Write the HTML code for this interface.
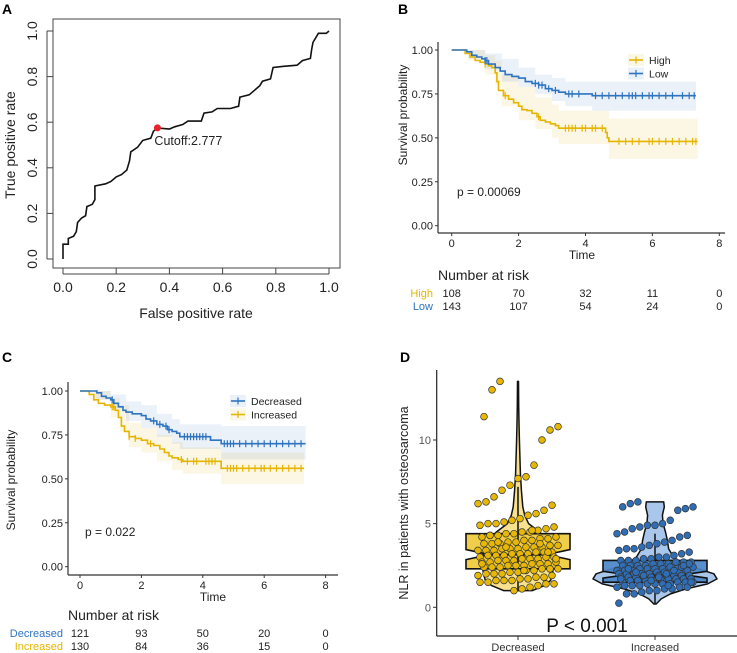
<!DOCTYPE html>
<html><head><meta charset="utf-8"><style>
body{margin:0;background:#fff}
svg{display:block;font-family:"Liberation Sans",sans-serif}
</style></head><body>
<svg id="fig" width="737" height="653" viewBox="0 0 737 653"></svg>
<script>
// ---------- Panel A data ----------
const rocFpr=[0,0,0.02,0.02,0.04,0.05,0.055,0.07,0.085,0.09,0.11,0.12,0.12,0.16,0.18,0.2,0.22,0.24,0.25,0.255,0.28,0.3,0.33,0.34,0.355,0.4,0.42,0.45,0.47,0.52,0.53,0.56,0.58,0.63,0.66,0.665,0.7,0.72,0.74,0.75,0.78,0.79,0.83,0.88,0.9,0.93,0.935,0.94,0.96,0.99,1];
const rocTpr=[0,0.065,0.065,0.09,0.1,0.12,0.16,0.18,0.19,0.23,0.24,0.26,0.32,0.33,0.34,0.36,0.37,0.39,0.43,0.47,0.49,0.52,0.53,0.56,0.575,0.57,0.58,0.59,0.605,0.605,0.64,0.645,0.66,0.66,0.67,0.71,0.72,0.74,0.76,0.78,0.79,0.84,0.845,0.85,0.87,0.88,0.92,0.95,0.99,0.99,1];
const cutoffPoint=[0.355,0.575];
const rocTicks=[0,0.2,0.4,0.6,0.8,1.0];
// ---------- Panel B data ----------
const bHighT=[0.4,0.55,0.7,0.85,1.0,1.1,1.2,1.3,1.35,1.4,1.55,1.7,1.85,2.0,2.1,2.25,2.4,2.55,2.65,2.8,2.95,3.1,3.2,4.6,4.65,4.7];
const bHighS=[0.98,0.96,0.94,0.93,0.92,0.91,0.9,0.87,0.82,0.77,0.74,0.72,0.70,0.68,0.66,0.655,0.64,0.62,0.60,0.59,0.58,0.57,0.555,0.53,0.5,0.48];
const bHighCens=[1.0,1.6,2.6,3.4,3.5,3.6,3.7,3.9,4.0,4.2,4.3,4.5,5.0,5.2,5.4,5.6,5.9,6.0,6.2,6.4,6.6,6.8,7.0,7.2,7.3];
const bHighBandT=[0,0.5,1.0,1.3,1.5,2.0,2.5,3.0,3.2,4.7];
const bHighLo=[1,0.94,0.86,0.8,0.68,0.6,0.55,0.5,0.465,0.38];
const bHighHi=[1,1,0.97,0.94,0.86,0.79,0.73,0.69,0.655,0.61];
const bLowT=[0.45,0.6,0.75,0.9,1.0,1.1,1.3,1.45,1.6,1.8,2.0,2.2,2.4,2.6,2.8,3.0,3.2,3.4,4.2];
const bLowS=[0.99,0.97,0.96,0.95,0.94,0.92,0.90,0.88,0.86,0.85,0.84,0.82,0.81,0.80,0.78,0.77,0.76,0.75,0.74];
const bLowCens=[1.0,1.05,2.5,2.6,2.7,2.9,3.1,3.5,3.6,3.8,4.3,4.5,4.7,4.9,5.1,5.3,5.4,5.5,5.7,5.9,6.0,6.2,6.4,6.6,6.9,7.1,7.25];
const bLowBandT=[0,0.5,1,1.5,2,2.5,3,3.4,4.2];
const bLowLo=[1,0.95,0.89,0.82,0.79,0.75,0.71,0.68,0.655];
const bLowHi=[1,1,0.98,0.95,0.9,0.86,0.84,0.82,0.82];
const bRiskHigh=[108,70,32,11,0];
const bRiskLow=[143,107,54,24,0];
// ---------- Panel C data ----------
const cDecT=[0.55,0.7,0.85,1.0,1.1,1.25,1.4,1.5,1.7,2.0,2.15,2.3,2.5,2.7,2.85,3.0,3.15,3.25,4.25,4.6];
const cDecS=[0.99,0.97,0.96,0.95,0.93,0.91,0.89,0.88,0.87,0.86,0.84,0.83,0.81,0.80,0.78,0.77,0.76,0.74,0.72,0.70];
const cDecCens=[1.05,2.4,2.6,2.8,2.9,3.4,3.5,3.6,3.7,3.8,3.9,4.0,4.1,4.7,4.8,4.9,5.0,5.2,5.4,5.6,5.8,6.0,6.2,6.4,6.6,6.8,7.0,7.2];
const cDecBandT=[0,0.5,1,1.5,2,2.5,3,3.25,4.6];
const cDecLo=[1,0.95,0.9,0.83,0.79,0.74,0.7,0.67,0.61];
const cDecHi=[1,1,0.98,0.94,0.92,0.87,0.84,0.81,0.8];
const cIncT=[0.3,0.45,0.6,0.8,1.0,1.15,1.25,1.35,1.45,1.6,1.8,2.0,2.2,2.4,2.6,2.75,2.9,3.0,3.2,3.35,4.6];
const cIncS=[0.98,0.95,0.93,0.92,0.91,0.89,0.85,0.8,0.77,0.74,0.73,0.72,0.7,0.69,0.67,0.65,0.63,0.62,0.61,0.6,0.56];
const cIncCens=[1.05,1.1,1.6,1.8,2.3,3.3,3.5,3.7,3.8,4.1,4.2,4.3,4.4,4.8,4.9,5.0,5.1,5.3,5.5,5.7,5.9,6.0,6.2,6.4,6.6,6.8,7.0,7.2];
const cIncBandT=[0,0.3,1,1.3,1.6,2,2.5,3,3.35,4.6];
const cIncLo=[1,0.95,0.85,0.77,0.68,0.65,0.6,0.55,0.53,0.47];
const cIncHi=[1,1,0.96,0.92,0.82,0.79,0.75,0.71,0.68,0.65];
const cRiskDec=[121,93,50,20,0];
const cRiskInc=[130,84,36,15,0];
const kmTimeTicks=[0,2,4,6,8];
const kmProbTicks=[0,0.25,0.5,0.75,1.0];
// ---------- Panel D data ----------
const dCategories=["Decreased","Increased"];
const dDecVals=[13.5,13.0,11.4,10.8,10.6,10.0,8.5,7.8,7.7,7.3,7.0,6.6,6.3,6.2,6.1,5.8,5.6,5.5,5.3,5.2,5.1,5.0,5.0,4.9,4.8,4.7,4.6,4.5,4.5,4.4,4.4,4.3,4.3,4.2,4.2,4.1,4.1,4.0,4.0,3.9,3.9,3.8,3.8,3.8,3.7,3.7,3.6,3.6,3.6,3.5,3.5,3.5,3.4,3.4,3.4,3.3,3.3,3.3,3.2,3.2,3.2,3.1,3.1,3.1,3.0,3.0,3.0,2.9,2.9,2.9,2.8,2.8,2.8,2.7,2.7,2.7,2.6,2.6,2.6,2.5,2.5,2.5,2.4,2.4,2.4,2.3,2.3,2.3,2.2,2.2,2.1,2.1,2.0,2.0,2.0,1.9,1.9,1.8,1.8,1.7,1.7,1.6,1.6,1.6,1.5,1.5,1.4,1.4,1.3,1.2,1.1,1.0,3.6,3.9,4.3,2.6,2.9,3.3,3.8,4.6,2.2];
const dIncVals=[6.3,6.2,6.0,6.0,5.9,5.8,5.2,5.0,4.9,4.9,4.8,4.7,4.5,4.4,4.3,4.2,4.0,3.9,3.8,3.7,3.6,3.5,3.5,3.4,3.3,3.2,3.1,3.0,3.0,2.9,2.9,2.8,2.8,2.8,2.7,2.7,2.7,2.6,2.6,2.6,2.5,2.5,2.5,2.5,2.4,2.4,2.4,2.4,2.3,2.3,2.3,2.3,2.2,2.2,2.2,2.2,2.1,2.1,2.1,2.1,2.0,2.0,2.0,2.0,2.0,1.9,1.9,1.9,1.9,1.9,1.8,1.8,1.8,1.8,1.8,1.7,1.7,1.7,1.7,1.7,1.6,1.6,1.6,1.6,1.5,1.5,1.5,1.5,1.4,1.4,1.4,1.4,1.3,1.3,1.3,1.2,1.2,1.2,1.1,1.1,1.0,1.0,0.9,0.8,0.8,0.25,2.6,2.4,2.2,2.0,1.8,1.6,1.9,2.1,2.3,1.7,1.5,2.5,2.7,1.3];
const dDecDensV=[1.0,1.3,1.6,2.0,2.5,3.0,3.5,4.0,4.5,5.0,5.5,6.0,7.0,8.0,9.0,10.0,11,12,13.5];
const dDecDens=[0.3,0.55,0.68,0.72,0.74,0.74,0.7,0.62,0.45,0.22,0.14,0.1,0.07,0.05,0.04,0.03,0.02,0.015,0.01];
const dIncDensV=[0.2,0.5,0.8,1.1,1.4,1.7,2.0,2.3,2.6,3.0,3.5,4.0,4.5,5.0,5.5,6.0,6.3];
const dIncDens=[0.02,0.1,0.25,0.5,0.85,1.0,0.95,0.7,0.45,0.3,0.22,0.2,0.17,0.13,0.12,0.15,0.14];
const dQ1=[2.3,1.5], dMed=[3.15,1.95], dQ3=[4.4,2.8], dWLo=[1.0,0.2], dWHi=[7.2,4.4], dNotch=[0.3,0.2];
const dYTicks=[0,5,10];

const NS="http://www.w3.org/2000/svg";
const svg=document.getElementById('fig');
function el(tag,attrs,parent,txt){const e=document.createElementNS(NS,tag);for(const k in attrs)e.setAttribute(k,attrs[k]);if(txt!==undefined)e.textContent=txt;(parent||svg).appendChild(e);return e;}
const BLUE="#2E74C0", YEL="#E5B500";

function panelLabel(t,x,y){const e=el('text',{x:x,y:y,'font-size':14,'font-weight':'bold'},svg,t);

}

// ================= Panel A =================
(function(){
 const g=el('g',{});
 
 
 const X=v=>63+v*266, Y=v=>259-v*228;
 const box=el('rect',{x:53,y:19,width:287,height:249,fill:'none',stroke:'#444','stroke-width':1},g);
 
 
 rocTicks.forEach((t,i)=>{
  el('line',{x1:X(t),x2:X(t),y1:268,y2:274,stroke:'#444'},g);
  const lx=el('text',{x:X(t),y:292,'font-size':14,'text-anchor':'middle',fill:'#222'},g,t.toFixed(1));
  
  
  el('line',{x1:53,x2:47,y1:Y(t),y2:Y(t),stroke:'#444'},g);
  const ly=el('text',{x:0,y:0,'font-size':14,'text-anchor':'middle',fill:'#222',transform:`translate(37,${Y(t)}) rotate(-90)`},g,t.toFixed(1));
  
  
 });
 el('line',{x1:X(0),x2:X(1),y1:274,y2:274,stroke:'#444'},g);
 el('line',{x1:47,x2:47,y1:Y(0),y2:Y(1),stroke:'#444'},g);
 const xt=el('text',{x:196,y:318,'font-size':14,'text-anchor':'middle',fill:'#222'},g,'False positive rate');
 
 
 const yt=el('text',{x:0,y:0,'font-size':14,'text-anchor':'middle',fill:'#222',transform:'translate(15,145) rotate(-90)'},g,'True positive rate');
 
 
 let d='';rocFpr.forEach((f,i)=>{d+=(i?'L':'M')+X(f).toFixed(1)+','+Y(rocTpr[i]).toFixed(1);});
 const ln=el('path',{d:d,fill:'none',stroke:'#111','stroke-width':1.6},g);
 
 
 const c=el('circle',{cx:X(cutoffPoint[0]),cy:Y(cutoffPoint[1]),r:3.5,fill:'#e8232a'},g);
 
 
 const ct=el('text',{x:X(cutoffPoint[0])-3,y:Y(cutoffPoint[1])+17,'font-size':12.5,fill:'#222'},g,'Cutoff:2.777');
 
 
})();
panelLabel('A',2,14);

// ================= KM panels =================
function stepPath(T,S,X,Y,end){let d=`M${X(0)},${Y(1)}`;let cur=1;T.forEach((t,i)=>{d+=`H${X(t).toFixed(1)}V${Y(S[i]).toFixed(1)}`;cur=S[i];});d+=`H${X(end).toFixed(1)}`;return d;}
function bandPath(T,L,H,X,Y,end){let up='',lo='';const n=T.length;
 for(let i=0;i<n;i++){const t1=(i<n-1)?T[i+1]:end;up+=(i?'L':'M')+X(T[i]).toFixed(1)+','+Y(H[i]).toFixed(1)+'L'+X(t1).toFixed(1)+','+Y(H[i]).toFixed(1);}
 for(let i=n-1;i>=0;i--){const t1=(i<n-1)?T[i+1]:end;lo+='L'+X(t1).toFixed(1)+','+Y(L[i]).toFixed(1)+'L'+X(T[i]).toFixed(1)+','+Y(L[i]).toFixed(1);}
 return up+lo+'Z';}
function survAt(T,S,t){let s=1;T.forEach((x,i)=>{if(x<=t)s=S[i];});return s;}

function kmPanel(o){
 const g=el('g',{});
 
 
 const X=v=>o.x0+v*o.sx, Y=v=>o.y0-v*o.sy;
 o.series.forEach(s=>{
  const b=el('path',{d:bandPath(s.bT,s.lo,s.hi,X,Y,s.end),fill:s.color,'fill-opacity':0.1},g);
  
  
 });
 o.series.forEach(s=>{
  const p=el('path',{d:stepPath(s.T,s.S,X,Y,s.end),fill:'none',stroke:s.color,'stroke-width':1.6},g);
  
  
  s.cens.forEach(t=>{const v=survAt(s.T,s.S,t);
   const m=el('line',{x1:X(t),x2:X(t),y1:Y(v)-3.5,y2:Y(v)+3.5,stroke:s.color,'stroke-width':1.2},g);
   
   });
 });
 // axes
 el('line',{x1:o.axL,x2:o.axL,y1:o.axT,y2:o.axB,stroke:'#333','stroke-width':1.2},g);
 el('line',{x1:o.axL,x2:o.axR,y1:o.axB,y2:o.axB,stroke:'#333','stroke-width':1.2},g);
 kmProbTicks.forEach(t=>{el('line',{x1:o.axL,x2:o.axL-3,y1:Y(t),y2:Y(t),stroke:'#333'},g);
  const l=el('text',{x:o.axL-5,y:Y(t)+4,'font-size':11,'text-anchor':'end',fill:'#222'},g,t.toFixed(2));
  
  });
 kmTimeTicks.forEach(t=>{el('line',{x1:X(t),x2:X(t),y1:o.axB,y2:o.axB+3,stroke:'#333'},g);
  const l=el('text',{x:X(t),y:o.axB+14,'font-size':11,'text-anchor':'middle',fill:'#222'},g,t);
  
  });
 const xt=el('text',{x:o.timeX,y:o.axB+26,'font-size':12,'text-anchor':'middle',fill:'#222'},g,'Time');
 
 
 const yt=el('text',{x:0,y:0,'font-size':12,'text-anchor':'middle',fill:'#222',transform:`translate(${o.ytX},${o.ytY}) rotate(-90)`},g,'Survival probability');
 
 
 const pv=el('text',{x:o.pX,y:o.pY,'font-size':12,fill:'#222'},g,o.pText);
 
 
 o.legend.forEach((s,i)=>{const ly=o.legY+i*13.5;
  el('rect',{x:o.legX-2,y:ly-6,width:16,height:12,fill:s.color,'fill-opacity':0.1},g);
  el('line',{x1:o.legX-1,x2:o.legX+13,y1:ly,y2:ly,stroke:s.color,'stroke-width':1.6},g);
  el('line',{x1:o.legX+6,x2:o.legX+6,y1:ly-3.5,y2:ly+3.5,stroke:s.color,'stroke-width':1.2},g);
  const t=el('text',{x:o.legX+19,y:ly+4,'font-size':10.5,fill:'#222'},g,s.label);
  
  });
 const nr=el('text',{x:o.axL,y:o.nrY,'font-size':14,fill:'#222'},g,'Number at risk');
 
 
 o.risk.forEach((r,i)=>{const ry=o.rowY+i*13;
  const lab=el('text',{x:o.axL-5,y:ry,'font-size':11,'text-anchor':'end',fill:r.color},g,r.label);
  
  
  r.vals.forEach((v,j)=>{const t=el('text',{x:X(kmTimeTicks[j]),y:ry,'font-size':11,'text-anchor':'middle',fill:'#222'},g,v);
   
   });
 });
}
const hiS={key:'high',color:YEL,T:bHighT,S:bHighS,cens:bHighCens,bT:bHighBandT,lo:bHighLo,hi:bHighHi,end:7.35};
const loS={key:'low',color:BLUE,T:bLowT,S:bLowS,cens:bLowCens,bT:bLowBandT,lo:bLowLo,hi:bLowHi,end:7.3};
kmPanel({name:'km-panel-b',x0:451.7,sx:33.45,y0:225.7,sy:175.7,axL:438,axR:725,axT:42,axB:233,timeX:582,ytX:407,ytY:115,pX:457,pY:196,pText:'p = 0.00069',
 series:[hiS,loS],legend:[{key:'high',label:'High',color:YEL},{key:'low',label:'Low',color:BLUE}],legX:630,legY:60,
 nrY:280,rowY:297,risk:[{key:'high',label:'High',color:YEL,vals:bRiskHigh},{key:'low',label:'Low',color:BLUE,vals:bRiskLow}]});
panelLabel('B',398,14);
const dS={key:'decreased',color:BLUE,T:cDecT,S:cDecS,cens:cDecCens,bT:cDecBandT,lo:cDecLo,hi:cDecHi,end:7.35};
const iS={key:'increased',color:YEL,T:cIncT,S:cIncS,cens:cIncCens,bT:cIncBandT,lo:cIncLo,hi:cIncHi,end:7.3};
kmPanel({name:'km-panel-c',x0:80,sx:30.7,y0:566.7,sy:175.7,axL:68,axR:338,axT:382,axB:575,timeX:213,ytX:15,ytY:480,pX:85,pY:536,pText:'p = 0.022',
 series:[iS,dS],legend:[{key:'decreased',label:'Decreased',color:BLUE},{key:'increased',label:'Increased',color:YEL}],legX:232,legY:401,
 nrY:620,rowY:637,risk:[{key:'decreased',label:'Decreased',color:BLUE,vals:cRiskDec},{key:'increased',label:'Increased',color:YEL,vals:cRiskInc}]});
panelLabel('C',2,362);

// ================= Panel D =================
(function(){
 const g=el('g',{});
 
 
 const Y=v=>607.3-v*16.73;
 const cx=[518,655];
 const groups=[
  {vals:dDecVals,dv:dDecDensV,dd:dDecDens,scale:48,vio:'#F7E08E',box:'#EFCA3A',pt:'#E8B800',key:'decreased'},
  {vals:dIncVals,dv:dIncDensV,dd:dIncDens,scale:62,vio:'#A9C7EA',box:'#4A85C8',pt:'#2F6DB5',key:'increased'}];
 groups.forEach((G,i)=>{const c=cx[i];
  let d='';G.dv.forEach((v,k)=>{d+=(k?'L':'M')+(c+G.dd[k]*G.scale).toFixed(1)+','+Y(v).toFixed(1);});
  for(let k=G.dv.length-1;k>=0;k--)d+='L'+(c-G.dd[k]*G.scale).toFixed(1)+','+Y(G.dv[k]).toFixed(1);
  const vp=el('path',{d:d+'Z',fill:G.vio,stroke:'#111','stroke-width':1.5,'stroke-linejoin':'round'},g);
  
  
  const hw=i?52:52, ni=hw*0.45;
  const q1=Y(dQ1[i]),q3=Y(dQ3[i]),m=Y(dMed[i]),nu=Y(dMed[i]+dNotch[i]),nl=Y(dMed[i]-dNotch[i]);
  const bp=`M${c-hw},${q3}H${c+hw}V${nu}L${c+hw-ni},${m}L${c+hw},${nl}V${q1}H${c-hw}V${nl}L${c-hw+ni},${m}L${c-hw},${nu}Z`;
  const bx=el('path',{d:bp,fill:G.box,'fill-opacity':0.92,stroke:'#111','stroke-width':1.6},g);
  
  
  el('line',{x1:c-hw+ni,x2:c+hw-ni,y1:m,y2:m,stroke:'#111','stroke-width':2},g);
  el('line',{x1:c,x2:c,y1:Y(dWLo[i]),y2:Y(dWHi[i]),stroke:'#111','stroke-width':1.5},g);
  G.vals.forEach((v,k)=>{const j=(((k*37+11)%41)/40-0.5)*2;
   const p=el('circle',{cx:(c+j*(i?38:40)).toFixed(1),cy:Y(v).toFixed(1),r:3.4,fill:G.pt,stroke:'#333','stroke-width':0.7},g);
   
   });
  el('line',{x1:c,x2:c,y1:636,y2:640,stroke:'#333'},g);
  const t=el('text',{x:c,y:651,'font-size':11,'text-anchor':'middle',fill:'#333'},g,dCategories[i]);
  
  
 });
 el('line',{x1:436.7,x2:436.7,y1:370,y2:636,stroke:'#222','stroke-width':1.2},g);
 el('line',{x1:436.7,x2:737,y1:636,y2:636,stroke:'#222','stroke-width':1.2},g);
 dYTicks.forEach(t=>{el('line',{x1:436.7,x2:433,y1:Y(t),y2:Y(t),stroke:'#333'},g);
  const l=el('text',{x:431,y:Y(t)+4,'font-size':11,'text-anchor':'end',fill:'#555'},g,t);
  
  });
 const yt=el('text',{x:0,y:0,'font-size':12.5,'text-anchor':'middle',fill:'#222',transform:'translate(408,503) rotate(-90)'},g,'NLR in patients with osteosarcoma');
 
 
 const pv=el('text',{x:587,y:632,'font-size':19,'text-anchor':'middle',fill:'#111'},g,'P < 0.001');
 
 
})();
panelLabel('D',400,362);
</script>
</body></html>
